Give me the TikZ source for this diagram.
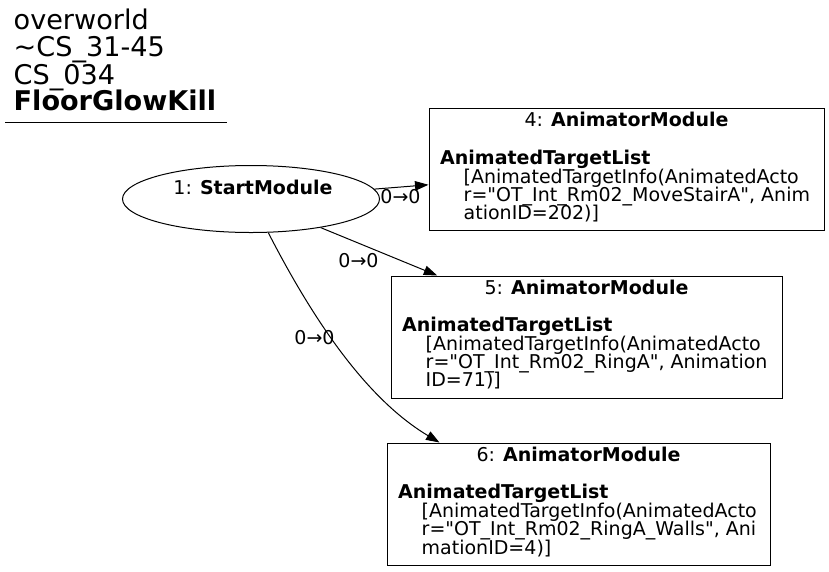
\documentclass[tikz,border=0pt]{standalone}
\usepackage{fontspec}
\setmainfont{DejaVu Sans}
\usetikzlibrary{arrows.meta,shapes.geometric,calc}
\newcommand{\nf}{\fontsize{19}{19}\selectfont}
\newcommand{\tf}{\fontsize{27.1}{27.5}\selectfont}
\newcommand{\qq}{\textquotedbl}
\begin{document}
\begin{tikzpicture}[x=1pt,y=-1pt,
  boxnode/.style={draw,line width=1pt,rectangle,inner sep=0pt},
  txt/.style={inner sep=0pt,font=\nf},
  ttl/.style={inner sep=0pt,font=\tf,anchor=base west},
  edge/.style={line width=1pt,-{Triangle[length=13.5pt,width=9.5pt]}},
  elabel/.style={inner sep=0pt,font=\nf}]
\useasboundingbox (0,0) rectangle (829,571);
% title
\node[ttl] (t1) at (13.5,29.3) {overworld};
\node[ttl] (t2) at (13.5,56.7) {\textasciitilde CS\_31-45};
\node[ttl] (t3) at (13.5,84.5) {CS\_034};
\node[ttl] (t4) at (13.5,110.7) {\textbf{FloorGlowKill}};
\draw[line width=1pt] (5,122) coordinate (u1) -- (227,122) coordinate (u2);
% start node
\node[draw,line width=1pt,ellipse,inner sep=0pt,minimum width=257pt,minimum height=67pt] (s) at (251,199) {};
\node[txt,anchor=base] (st) at (253,194) {1: \textbf{StartModule}};
% box 4
\node[boxnode,minimum width=395pt,minimum height=122pt] (b4) at (626.5,169) {};
\node[txt,anchor=base] (b4t) at (626.5,126.7) {4: \textbf{AnimatorModule}};
\node[txt,anchor=base west] (b4a) at (440,164) {\textbf{AnimatedTargetList}};
\node[txt,anchor=base west] (b4b) at (463.5,183.3) {[AnimatedTargetInfo(AnimatedActo};
\node[txt,anchor=base west] (b4c) at (463.5,201.3) {r=\qq OT\_Int\_Rm02\_MoveStairA\qq, Anim};
\node[txt,anchor=base west] (b4d) at (463.5,219.3) {ationID=202)]};
% box 5
\node[boxnode,minimum width=391pt,minimum height=122pt] (b5) at (586.5,337) {};
\node[txt,anchor=base] (b5t) at (586.5,294.5) {5: \textbf{AnimatorModule}};
\node[txt,anchor=base west] (b5a) at (402,331.7) {\textbf{AnimatedTargetList}};
\node[txt,anchor=base west] (b5b) at (425.5,350) {[AnimatedTargetInfo(AnimatedActo};
\node[txt,anchor=base west] (b5c) at (425.5,368.3) {r=\qq OT\_Int\_Rm02\_RingA\qq, Animation};
\node[txt,anchor=base west] (b5d) at (425.5,386.7) {ID=71)]};
% box 6
\node[boxnode,minimum width=383pt,minimum height=122pt] (b6) at (578.5,504) {};
\node[txt,anchor=base] (b6t) at (578.5,461.7) {6: \textbf{AnimatorModule}};
\node[txt,anchor=base west] (b6a) at (398,498.3) {\textbf{AnimatedTargetList}};
\node[txt,anchor=base west] (b6b) at (421.5,517) {[AnimatedTargetInfo(AnimatedActo};
\node[txt,anchor=base west] (b6c) at (421.5,535.5) {r=\qq OT\_Int\_Rm02\_RingA\_Walls\qq, Ani};
\node[txt,anchor=base west] (b6d) at (421.5,554) {mationID=4)]};
% edges
\draw[edge] (s) -- (b4);
\node[elabel] (l1) at (400.5,196.5) {0→0};
\draw[edge] (s) -- (b5);
\node[elabel] (l2) at (358.5,261) {0→0};
\draw[edge] (s) .. controls (327,347) and (380,407) .. ($(b6.north west)!0.138!(b6.north east)$);
\node[elabel] (l3) at (314.5,337.5) {0→0};
\end{tikzpicture}
\end{document}
